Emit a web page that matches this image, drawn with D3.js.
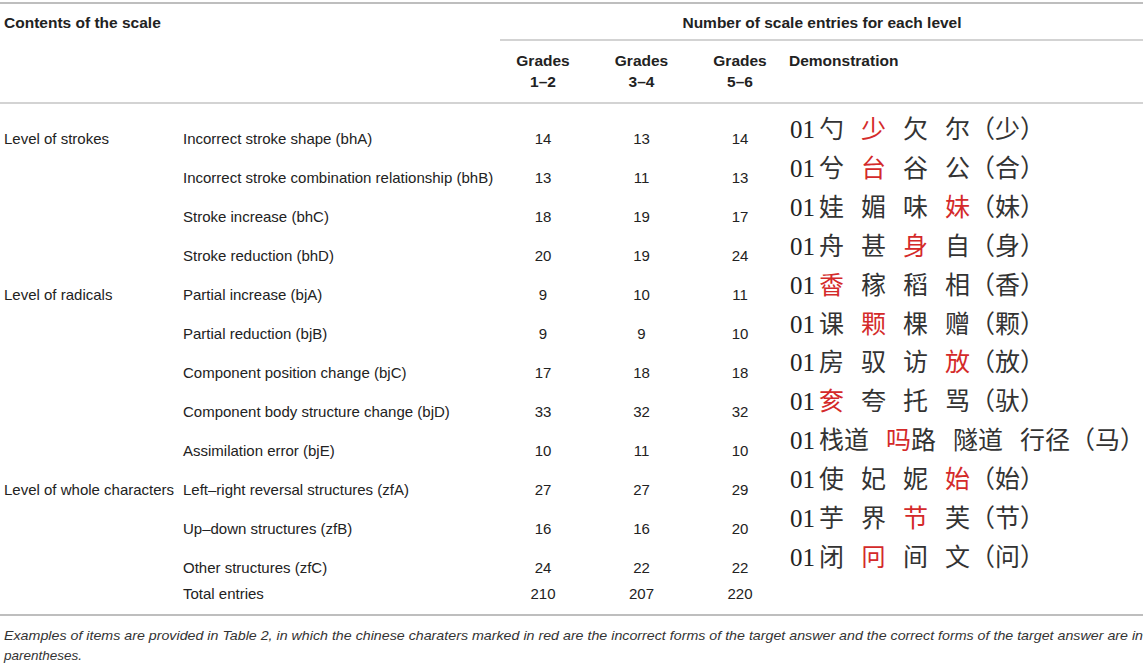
<!DOCTYPE html>
<html>
<head>
<meta charset="utf-8">
<script src="https://cdn.jsdelivr.net/npm/d3@7"></script>
<style>
  body { margin: 0; background: #fff; }
  svg text { font-family: "Liberation Sans", Arial, sans-serif; fill: #222; }
</style>
</head>
<body>
<div id="chart"></div>
<script>
// table content
const levels = ["Level of strokes", "", "", "", "Level of radicals", "", "", "", "", "Level of whole characters", "", ""];
const items = [
  "Incorrect stroke shape (bhA)",
  "Incorrect stroke combination relationship (bhB)",
  "Stroke increase (bhC)",
  "Stroke reduction (bhD)",
  "Partial increase (bjA)",
  "Partial reduction (bjB)",
  "Component position change (bjC)",
  "Component body structure change (bjD)",
  "Assimilation error (bjE)",
  "Left\u2013right reversal structures (zfA)",
  "Up\u2013down structures (zfB)",
  "Other structures (zfC)"
];
const grades = ["1\u20132", "3\u20134", "5\u20136"];
const grades12 = [14, 13, 18, 20, 9, 9, 17, 33, 10, 27, 16, 24];
const grades34 = [13, 11, 19, 19, 10, 9, 18, 32, 11, 27, 16, 22];
const grades56 = [14, 13, 17, 24, 11, 10, 18, 32, 10, 29, 20, 22];
const totals = [210, 207, 220];

// demonstration rows: words, index of the word whose first character is red, answer
const demoWords = [
  ["勺", "少", "欠", "尔"],
  ["兮", "台", "谷", "公"],
  ["娃", "媚", "味", "妹"],
  ["舟", "甚", "身", "自"],
  ["稥", "稼", "稻", "相"],
  ["课", "颗", "棵", "赠"],
  ["房", "驭", "访", "放"],
  ["奒", "夸", "托", "骂"],
  ["栈道", "吗路", "隧道", "行径"],
  ["使", "妃", "妮", "始"],
  ["芋", "界", "节", "芙"],
  ["闭", "冋", "间", "文"]
];
const demoRed = [1, 1, 3, 2, 0, 1, 3, 0, 1, 3, 2, 1];
const demoAnswer = ["少", "合", "妹", "身", "香", "颗", "放", "驮", "马", "始", "节", "问"];

const caption1 = "Examples of items are provided in Table 2, in which the chinese charaters marked in red are the incorrect forms of the target answer and the correct forms of the target answer are in";
const caption2 = "parentheses.";

const width = 1147, height = 664;
const bodySize = 15, headSize = 15.5;
const svg = d3.select("#chart").append("svg")
  .attr("width", width)
  .attr("height", height);

const x = d3.scalePoint().domain(grades).range([543, 740]);
const y = d3.scalePoint().domain(d3.range(items.length)).range([139, 568]);
const yDemo = d3.scalePoint().domain(d3.range(demoWords.length)).range([129, 557]);

// rules
const rules = [
  { x1: 0, x2: 1143, y: 3, w: 1.6 },
  { x1: 500, x2: 1143, y: 40, w: 1.2 },
  { x1: 0, x2: 1143, y: 103, w: 1.2 },
  { x1: 0, x2: 1143, y: 615, w: 1.6 }
];
svg.selectAll("line.rule").data(rules).enter().append("line")
  .attr("class", "rule")
  .attr("x1", d => d.x1).attr("x2", d => d.x2)
  .attr("y1", d => d.y).attr("y2", d => d.y)
  .attr("stroke", "#a8a8a8")
  .attr("stroke-width", d => d.w);

// headers
svg.append("text").attr("x", 4).attr("y", 28)
  .attr("font-size", headSize).attr("font-weight", "bold")
  .text("Contents of the scale");
svg.append("text").attr("x", 822).attr("y", 28)
  .attr("font-size", headSize).attr("font-weight", "bold")
  .attr("text-anchor", "middle")
  .text("Number of scale entries for each level");

const gh = svg.selectAll("g.gh").data(grades).enter().append("g")
  .attr("class", "gh")
  .attr("transform", d => `translate(${x(d)},0)`);
gh.append("text").attr("y", 66).attr("text-anchor", "middle")
  .attr("font-size", headSize).attr("font-weight", "bold").text("Grades");
gh.append("text").attr("y", 87).attr("text-anchor", "middle")
  .attr("font-size", headSize).attr("font-weight", "bold").text(d => d);

svg.append("text").attr("x", 789).attr("y", 66)
  .attr("font-size", headSize).attr("font-weight", "bold")
  .text("Demonstration");

// body rows
const rows = svg.selectAll("g.row").data(items).enter().append("g")
  .attr("class", "row")
  .attr("transform", (d, i) => `translate(0,${y(i) + 5})`);
rows.append("text").attr("x", 4).attr("font-size", bodySize)
  .text((d, i) => levels[i]);
rows.append("text").attr("x", 183).attr("font-size", bodySize)
  .text(d => d);
const series = [grades12, grades34, grades56];
grades.forEach((g, k) => {
  rows.append("text").attr("x", x(g)).attr("text-anchor", "middle")
    .attr("font-size", bodySize)
    .text((d, i) => series[k][i]);
});

// total row
const tot = svg.append("g").attr("transform", "translate(0,599)");
tot.append("text").attr("x", 183).attr("font-size", bodySize).text("Total entries");
tot.selectAll("text.tot").data(totals).enter().append("text")
  .attr("class", "tot")
  .attr("x", (d, i) => x(grades[i]))
  .attr("text-anchor", "middle")
  .attr("font-size", bodySize)
  .text(d => d);

// demonstration column
const demo = svg.selectAll("text.demo").data(demoWords).enter().append("text")
  .attr("class", "demo")
  .attr("x", 790)
  .attr("y", (d, i) => yDemo(i) + 9)
  .attr("font-size", 25)
  .style("font-family", "'Noto Sans CJK SC', sans-serif");
demo.each(function (words, i) {
  const t = d3.select(this);
  t.append("tspan").text("01")
    .style("font-family", "'Liberation Serif', serif")
    .style("fill", "#222");
  words.forEach((w, j) => {
    const isRed = j === demoRed[i];
    t.append("tspan")
      .attr("dx", j === 0 ? 4 : 17)
      .style("fill", isRed ? "#d42a2a" : "#333")
      .text(isRed ? w.slice(0, 1) : w);
    if (isRed && w.length > 1) {
      t.append("tspan").style("fill", "#333").text(w.slice(1));
    }
  });
  t.append("tspan").style("fill", "#333").text("\uFF08" + demoAnswer[i] + "\uFF09");
});

// caption
svg.append("text").attr("x", 4).attr("y", 640)
  .attr("font-size", 13.5).attr("font-style", "italic")
  .style("fill", "#333")
  .attr("textLength", 1139).attr("lengthAdjust", "spacingAndGlyphs")
  .text(caption1);
svg.append("text").attr("x", 4).attr("y", 660)
  .attr("font-size", 13.5).attr("font-style", "italic")
  .style("fill", "#333")
  .text(caption2);
</script>
</body>
</html>
